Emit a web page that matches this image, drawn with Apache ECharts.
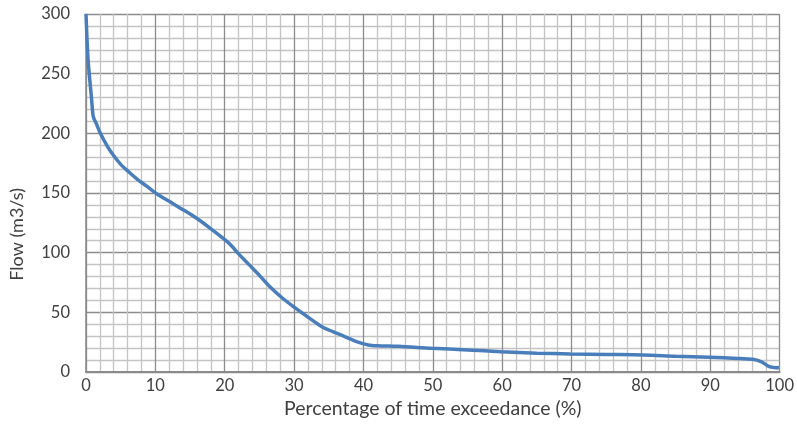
<!DOCTYPE html>
<html>
<head>
<meta charset="utf-8">
<script src="https://cdn.jsdelivr.net/npm/echarts@6/dist/echarts.min.js"></script>
<style>html,body{margin:0;padding:0;background:#fff}#c{width:797px;height:432px}</style>
</head>
<body>
<div id="c"></div>
<script>
var exceedance = [0, 0.3, 0.8, 1.05, 1.5, 2.0, 3.0, 3.9, 5.0, 6.3, 7.5, 8.7, 10.3, 12.0, 14.0, 15.9, 18.0, 20.6, 22.0, 23.5, 25.0, 26.4, 28.3, 30.2, 32.0, 34.0, 35.5, 37.3, 39.0, 40.7, 42.0, 45.0, 49.8, 55.0, 59.8, 65.0, 69.8, 75.0, 80.3, 85.0, 89.9, 94.0, 96.1, 97.3, 98.5, 99.2, 99.9];
var flow = [300, 262, 229, 214, 208, 201, 190, 182, 174, 167, 161, 156, 149, 143, 136, 129, 120, 108, 99, 90, 81, 72, 62, 53.5, 46, 38, 34, 29.7, 25.5, 22.7, 22, 21.5, 19.9, 18.5, 17, 15.8, 15.1, 14.7, 14.3, 13.2, 12.3, 11.4, 10.6, 8.7, 4.5, 3.8, 3.6];
var xTicks = [0, 10, 20, 30, 40, 50, 60, 70, 80, 90, 100];
var yTicks = [0, 50, 100, 150, 200, 250, 300];
var xTitle = 'Percentage of time exceedance (%)';
var yTitle = 'Flow (m3/s)';

var points = exceedance.map(function (x, i) { return [x, flow[i]]; });
var font = 'Lato, "Open Sans", sans-serif';
var textColor = '#404040';
var chart = echarts.init(document.getElementById('c'), null, {renderer: 'canvas'});
chart.setOption({
  animation: false,
  grid: {left: 86, right: 13, top: 14, bottom: 60, containLabel: false},
  graphic: [{
    type: 'text', left: 8, top: 188,
    rotation: Math.PI / 2,
    style: {text: yTitle, fontFamily: font, fontSize: 18, fill: textColor}
  }],
  xAxis: {
    type: 'value', min: xTicks[0], max: xTicks[xTicks.length - 1], interval: 10,
    name: xTitle, nameLocation: 'middle', nameGap: 26,
    nameTextStyle: {fontFamily: font, fontSize: 19.5, color: textColor},
    axisLine: {show: true, lineStyle: {color: '#8a8a8a', width: 2}},
    axisTick: {show: false},
    axisLabel: {fontFamily: font, fontSize: 16.5, color: textColor, margin: 5},
    splitLine: {show: true, lineStyle: {color: '#8c8c8c', width: 1.3}},
    minorTick: {show: false, splitNumber: 5},
    minorSplitLine: {show: true, lineStyle: {color: '#c4c4c4', width: 1.3}}
  },
  yAxis: {
    type: 'value', min: yTicks[0], max: yTicks[yTicks.length - 1], interval: 50,
    axisLine: {show: true, lineStyle: {color: '#8a8a8a', width: 1.5}},
    axisTick: {show: false},
    axisLabel: {fontFamily: font, fontSize: 16.5, color: textColor, margin: 16},
    splitLine: {show: true, lineStyle: {color: '#8c8c8c', width: 1.3}},
    minorTick: {show: false, splitNumber: 5},
    minorSplitLine: {show: true, lineStyle: {color: '#c4c4c4', width: 1.3}}
  },
  series: [{
    type: 'line', data: points, showSymbol: false, smooth: 0.3,
    lineStyle: {color: '#4a7ebb', width: 3.5}
  }]
});
</script>
</body>
</html>
